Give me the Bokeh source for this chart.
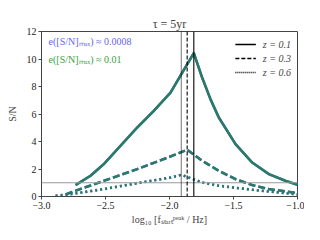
from bokeh.plotting import figure
from bokeh.models import Span, Legend, LegendItem, Label, FixedTicker
from bokeh.embed import file_html
from bokeh.resources import INLINE

# log10 f_start^peak values and S/N for each redshift
x_z01 = [-2.734, -2.617, -2.513, -2.383, -2.252, -2.123, -1.992, -1.901, -1.81,
         -1.745, -1.68, -1.615, -1.484, -1.354, -1.224, -1.094, -1.0]
sn_z01 = [0.83, 1.51, 2.36, 3.69, 5.02, 6.23, 7.56, 9.0, 10.43,
          8.65, 7.08, 5.75, 3.81, 2.47, 1.63, 1.14, 0.85]

x_z03 = [-2.81, -2.773, -2.513, -2.252, -1.992, -1.862, -1.745, -1.615, -1.484,
         -1.354, -1.224, -1.0]
sn_z03 = [0.15, 0.29, 1.14, 1.99, 2.91, 3.40, 2.6, 1.87, 1.26, 0.83, 0.54, 0.25]

x_z06 = [-2.89, -2.773, -2.513, -2.252, -1.992, -1.908, -1.745, -1.615, -1.354, -1.0]
sn_z06 = [0.05, 0.17, 0.54, 0.97, 1.38, 1.58, 1.02, 0.78, 0.49, 0.15]

peak_lines = [-1.81, -1.862, -1.908]
peak_dashes = ["solid", "4 2", "1 1"]
legend_labels = ["z = 0.1", "z = 0.3", "z = 0.6"]
x_ticks = [-3.0, -2.5, -2.0, -1.5, -1.0]
x_tick_labels = ["\u22123.0", "\u22122.5", "\u22122.0", "\u22121.5", "\u22121.0"]
y_ticks = [0, 2, 4, 6, 8, 10, 12]

FONT = "Liberation Serif"
TEAL = "#2a7a68"
BLUE = "#4f5fd6"

p = figure(frame_width=256, frame_height=165, x_range=(-3.0, -1.0), y_range=(0, 12),
           output_backend="svg", toolbar_location=None,
           min_border_left=41, min_border_right=7, min_border_top=31, min_border_bottom=20)
p.background_fill_color = "white"
p.border_fill_color = "white"
p.outline_line_color = "#444444"
p.outline_line_width = 1
p.grid.visible = False

p.title.text = "\u03c4 = 5yr"
p.title.align = "center"
p.title.text_font = FONT
p.title.text_font_size = "12px"
p.title.text_font_style = "normal"
p.title.standoff = 2
p.title.offset = 0

p.xaxis.ticker = FixedTicker(ticks=x_ticks)
p.xaxis.major_label_overrides = {t: l for t, l in zip(x_ticks, x_tick_labels)}
p.yaxis.ticker = FixedTicker(ticks=y_ticks)
for ax in (p.xaxis, p.yaxis):
    ax.major_label_text_font = FONT
    ax.major_label_text_font_size = "10px"
    ax.major_label_text_color = "#222222"
    ax.axis_label_text_font = FONT
    ax.axis_label_text_font_size = "10px"
    ax.axis_label_text_font_style = "normal"
    ax.axis_line_color = "#444444"
    ax.major_tick_line_color = "#444444"
    ax.major_tick_out = 3
    ax.major_tick_in = 0
    ax.minor_tick_line_color = None
    ax.major_label_standoff = 2
    ax.axis_label_standoff = 4
p.xaxis.axis_label = "log\u2081\u2080 [f\u209b\u209c\u2090\u1d63\u209c\u1d56\u1d49\u1d43\u1d4f / Hz]"
p.xaxis.axis_label_standoff = 2
p.yaxis.axis_label = "S/N"
p.yaxis.axis_label_standoff = 6

# S/N = 1 threshold
p.add_layout(Span(location=1, dimension="width", line_color="#999999", line_width=1.2))

# peak frequency lines
for loc, d in zip(peak_lines, peak_dashes):
    p.add_layout(Span(location=loc, dimension="height", line_color="black",
                      line_width=1.1, line_dash=d))

# curves (blue under green)
for xs, ys, dash in ((x_z01, sn_z01, "solid"), (x_z03, sn_z03, "7 3"), (x_z06, sn_z06, "2 3")):
    p.line(xs, ys, line_color=BLUE, line_width=2.4, line_dash=dash, line_join="round")
    p.line(xs, ys, line_color=TEAL, line_width=2.6, line_dash=dash, line_join="round")

# legend
items = []
for lab, d in zip(legend_labels, ["solid", "4 2", "1 1"]):
    r = p.line([-5, -5], [-5, -5], line_color="black", line_width=1.3, line_dash=d)
    items.append(LegendItem(label=lab, renderers=[r]))
leg = Legend(items=items, location="top_right", border_line_color=None,
             background_fill_alpha=0, label_text_font=FONT, label_text_font_size="10px",
             label_text_font_style="italic", glyph_width=21, glyph_height=14,
             label_height=14, spacing=0, padding=4, margin=6, label_standoff=7)
p.add_layout(leg)

p.add_layout(Label(x=-2.945, y=11.25, text="e([S/N]\u2098\u2090\u2093) \u2248 0.0008",
                   text_font=FONT, text_font_size="10px", text_color="#6464f5",
                   text_baseline="middle"))
p.add_layout(Label(x=-2.945, y=10.0, text="e([S/N]\u2098\u2090\u2093) \u2248 0.01",
                   text_font=FONT, text_font_size="10px", text_color="#40a040",
                   text_baseline="middle"))

open("out.html", "w").write(file_html(p, INLINE))
